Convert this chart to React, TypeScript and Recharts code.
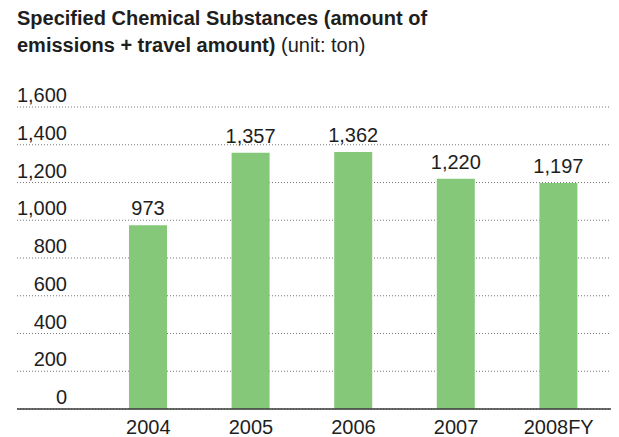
import React from 'react';
import { BarChart, Bar, XAxis, YAxis, CartesianGrid, LabelList } from 'recharts';

const years = ['2004', '2005', '2006', '2007', '2008FY'];
const amounts = [973, 1357, 1362, 1220, 1197];
const yTicks = [0, 200, 400, 600, 800, 1000, 1200, 1400, 1600];
const titleLine1 = 'Specified Chemical Substances (amount of';
const titleLine2Bold = 'emissions + travel amount)';
const titleLine2Unit = ' (unit: ton)';

const data = years.map((y, i) => ({ year: y, value: amounts[i] }));

const FONT = '"Liberation Sans", Arial, Helvetica, sans-serif';
const TEXT = '#1e1e1e';
const fmt = (v: number) => Number(v).toLocaleString('en-US');

const renderYTick = (props: any) => {
  const { y, payload } = props;
  return (
    <text key={`yt-${payload.value}`} x={59} y={y - 5} textAnchor="end" fontFamily={FONT} fontSize={20} fill={TEXT}>
      {fmt(payload.value)}
    </text>
  );
};

const renderXTick = (props: any) => {
  const { x, y, payload } = props;
  return (
    <text key={`xt-${payload.value}`} x={x} y={y + 17} textAnchor="middle" fontFamily={FONT} fontSize={20} fill={TEXT}>
      {payload.value}
    </text>
  );
};

export default function App() {
  return (
    <div style={{ position: 'relative', width: 611, height: 429 }}>
      <svg width={611} height={70} style={{ position: 'absolute', left: 0, top: 0 }}>
        <text x={9} y={17} fontFamily={FONT} fontSize={20} fontWeight="bold" fill={TEXT}>
          {titleLine1}
        </text>
        <text x={9} y={44} fontFamily={FONT} fontSize={20} fill={TEXT}>
          <tspan fontWeight="bold">{titleLine2Bold}</tspan>
          <tspan>{titleLine2Unit}</tspan>
        </text>
      </svg>
      <BarChart
        width={611}
        height={429}
        data={data}
        margin={{ top: 99, right: 0, bottom: 0, left: -51 }}
      >
        <CartesianGrid vertical={false} stroke="#777" strokeDasharray="1 2" />
        <YAxis
          domain={[0, 1600]}
          ticks={yTicks}
          width={60}
          axisLine={false}
          tickLine={false}
          tick={renderYTick}
          interval={0}
        />
        <XAxis
          dataKey="year"
          height={28}
          padding={{ left: 80, right: 9 }}
          axisLine={{ stroke: '#3a3a3a', strokeWidth: 1.5 }}
          tickLine={false}
          tick={renderXTick}
          interval={0}
        />
        <Bar dataKey="value" fill="#85c879" barSize={38} isAnimationActive={false}>
          <LabelList
            dataKey="value"
            position="top"
            offset={10}
            formatter={(v: any) => fmt(v)}
            fontFamily={FONT}
            fontSize={20}
            fill={TEXT}
          />
        </Bar>
      </BarChart>
    </div>
  );
}
